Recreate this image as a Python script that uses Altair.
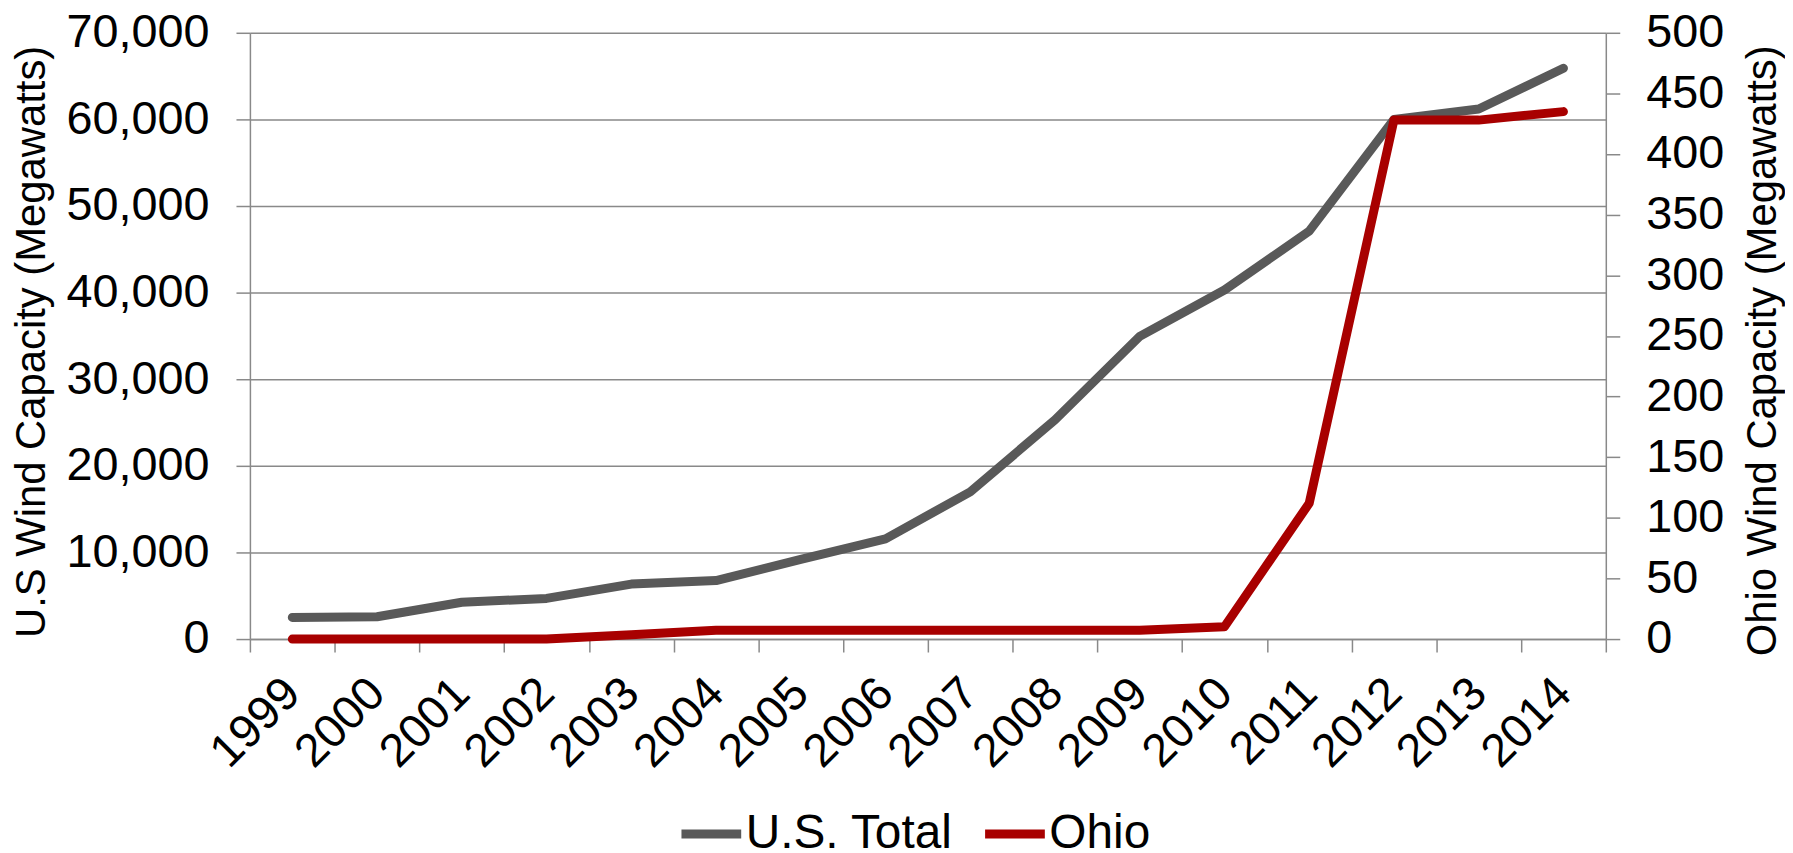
import altair as alt
import pandas as pd

years = ["1999", "2000", "2001", "2002", "2003", "2004", "2005", "2006",
         "2007", "2008", "2009", "2010", "2011", "2012", "2013", "2014"]
us_total = [2500, 2580, 4250, 4690, 6350, 6750, 9200, 11570,
            17000, 25300, 34950, 40300, 47100, 60000, 61200, 65900]
ohio = [0, 0, 0, 0, 3.6, 7.2, 7.2, 7.2, 7.2, 7.2, 7.2, 10.2, 112, 428, 428, 435]

series_names = ["U.S. Total", "Ohio"]
series_colors = ["#595959", "#A80000"]
left_ticks = [0, 10000, 20000, 30000, 40000, 50000, 60000, 70000]
right_ticks = [0, 50, 100, 150, 200, 250, 300, 350, 400, 450, 500]

df_us = pd.DataFrame({"year": years, "value": us_total, "series": series_names[0]})
df_oh = pd.DataFrame({"year": years, "value": ohio, "series": series_names[1]})

FONT = "Liberation Sans"
GRAY = "#898989"

x_enc = alt.X(
    "year:O",
    sort=years,
    scale=alt.Scale(type="band", paddingInner=0, paddingOuter=0),
    bandPosition=0.5,
    axis=alt.Axis(
        title=None, labelAngle=315, labelAlign="right", labelBaseline="middle",
        labelFontSize=47, labelPadding=34, tickBand="extent", tickSize=13,
        grid=False, domainColor=GRAY, tickColor=GRAY, domainWidth=1.5, tickWidth=1.5,
        labelColor="black",
    ),
)

color_enc = alt.Color(
    "series:N",
    scale=alt.Scale(domain=series_names, range=series_colors),
    legend=alt.Legend(
        title=None, orient="none", legendX=429, legendY=770, direction="horizontal",
        symbolType="stroke", symbolStrokeWidth=9, symbolSize=3600,
        labelFontSize=48, labelFont=FONT, labelColor="black", labelLimit=600,
        columnPadding=13, labelOffset=0,
    ),
)

us_line = alt.Chart(df_us).mark_line(strokeWidth=9, strokeCap="round", strokeJoin="round").encode(
    x=x_enc,
    y=alt.Y(
        "value:Q",
        scale=alt.Scale(domain=[0, 70000], nice=False, zero=True),
        axis=alt.Axis(
            orient="left", values=left_ticks, format=",.0f",
            title="U.S Wind Capacity (Megawatts)",
            titleX=-219, titleY=310, titleAngle=270, titleAlign="center", titleBaseline="middle",
            titleFontSize=42, titleFontWeight="normal", titleColor="black",
            labelFontSize=47, labelColor="black", labelPadding=27,
            grid=True, gridColor=GRAY, gridWidth=1.5,
            domainColor=GRAY, domainWidth=1.5, tickColor=GRAY, tickWidth=1.5, tickSize=14,
        ),
    ),
    color=color_enc,
)

oh_line = alt.Chart(df_oh).mark_line(strokeWidth=9, strokeCap="round", strokeJoin="round").encode(
    x=x_enc,
    y=alt.Y(
        "value:Q",
        scale=alt.Scale(domain=[0, 500], nice=False, zero=True),
        axis=alt.Axis(
            orient="right", values=right_ticks, format="d",
            title="Ohio Wind Capacity (Megawatts)",
            titleX=157, titleY=319, titleAngle=270, titleAlign="center", titleBaseline="middle",
            titleFontSize=42, titleFontWeight="normal", titleColor="black",
            labelFontSize=47, labelColor="black", labelPadding=26,
            grid=False,
            domainColor=GRAY, domainWidth=1.5, tickColor=GRAY, tickWidth=1.5, tickSize=14,
        ),
    ),
    color=color_enc,
)

chart = (
    alt.layer(us_line, oh_line)
    .resolve_scale(y="independent")
    .properties(
        width=1362, height=609,
        autosize=alt.AutoSizeParams(type="none"),
        padding={"left": 243, "top": 23, "right": 180, "bottom": 212},
    )
    .configure_view(stroke=None)
    .configure_axis(labelFont=FONT, titleFont=FONT)
    .configure_legend(labelFont=FONT)
)

chart.save("out.html", embed_options={"renderer": "svg", "actions": False})
